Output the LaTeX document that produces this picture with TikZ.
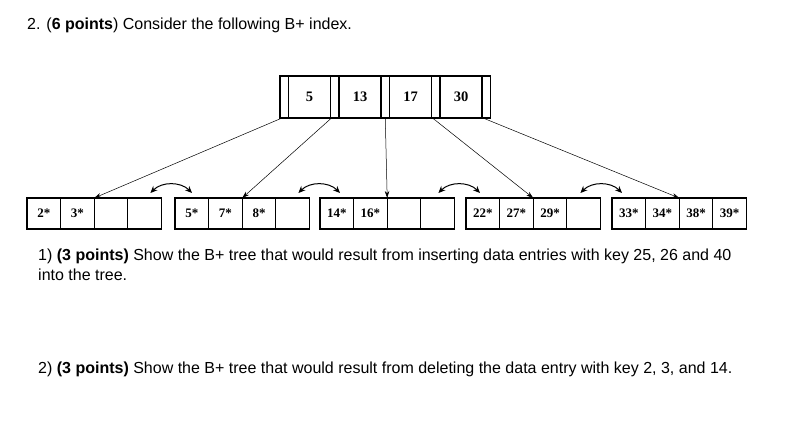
\documentclass[tikz,border=0pt]{standalone}
\usepackage{fontspec}
\setmainfont{Liberation Sans}
\newfontfamily\timesbf[Scale=1]{Liberation Serif}
\usetikzlibrary{positioning,arrows.meta,calc}
\newcommand{\keyfont}{\timesbf\bfseries\fontsize{14.5}{16}\selectfont}
\newcommand{\cellfont}{\timesbf\bfseries\fontsize{13}{15}\selectfont}
\tikzset{
  ptr/.style={draw, line width=1.3pt, outer sep=0pt, inner sep=0pt, minimum width=8.5pt, minimum height=42pt},
  key/.style={draw, line width=1.3pt, outer sep=0pt, inner sep=0pt, minimum width=42pt, minimum height=42pt, font=\keyfont},
  cell/.style={draw, line width=1.3pt, outer sep=0pt, inner sep=0pt, minimum width=33.6pt, minimum height=31pt, font=\cellfont},
  down/.style={-{Stealth[length=7pt,width=4.5pt]}, line width=0.5pt},
  sib/.style={{Stealth[length=7pt,width=6pt]}-{Stealth[length=7pt,width=6pt]}, line width=1pt, bend left=45},
  txt/.style={anchor=base west, inner sep=0pt, font=\fontsize{16}{19}\selectfont}
}
\begin{document}
\begin{tikzpicture}[x=1pt, y=-1pt, node distance=0pt]
  \useasboundingbox (0,0) rectangle (785,422);
  % root
  \node[ptr, anchor=north west] (p0) at (280,76) {};
  \node[key, right=of p0] (k1) {5};
  \node[ptr, right=of k1] (p1) {};
  \node[key, right=of p1] (k2) {13};
  \node[ptr, right=of k2] (p2) {};
  \node[key, right=of p2] (k3) {17};
  \node[ptr, right=of k3] (p3) {};
  \node[key, right=of p3] (k4) {30};
  \node[ptr, right=of k4] (p4) {};
  % leaves
  \node[cell, anchor=north west] (a1) at (27,198) {2*};
  \node[cell, right=of a1] (a2) {3*};
  \node[cell, right=of a2] (a3) {};
  \node[cell, right=of a3] (a4) {};
  \node[cell, anchor=north west] (b1) at (175,198) {5*};
  \node[cell, right=of b1] (b2) {7*};
  \node[cell, right=of b2] (b3) {8*};
  \node[cell, right=of b3] (b4) {};
  \node[cell, anchor=north west] (c1) at (320,198) {14*};
  \node[cell, right=of c1] (c2) {16*};
  \node[cell, right=of c2] (c3) {};
  \node[cell, right=of c3] (c4) {};
  \node[cell, anchor=north west] (d1) at (466,198) {22*};
  \node[cell, right=of d1] (d2) {27*};
  \node[cell, right=of d2] (d3) {29*};
  \node[cell, right=of d3] (d4) {};
  \node[cell, anchor=north west] (e1) at (612,198) {33*};
  \node[cell, right=of e1] (e2) {34*};
  \node[cell, right=of e2] (e3) {38*};
  \node[cell, right=of e3] (e4) {39*};
  % pointers
  \draw[down] ([xshift=2pt]p0.south west) -- (a3.north west);
  \draw[down] ([xshift=1pt]p1.south west) -- (b3.north west);
  \draw[down] (p2.south) -- (c3.north west);
  \draw[down] ([xshift=1pt]p3.south west) -- (d3.north west);
  \draw[down] ([xshift=1pt]p4.south west) -- (e3.north west);
  % sibling links
  \coordinate (ab1) at ([xshift=-11pt,yshift=5pt]a4.north east);
  \coordinate (ab2) at ([xshift=17pt,yshift=5pt]b1.north west);
  \coordinate (bc1) at ([xshift=-11pt,yshift=5pt]b4.north east);
  \coordinate (bc2) at ([xshift=20pt,yshift=5pt]c1.north west);
  \coordinate (cd1) at ([xshift=-16pt,yshift=5pt]c4.north east);
  \coordinate (cd2) at ([xshift=14pt,yshift=5pt]d1.north west);
  \coordinate (de1) at ([xshift=-20pt,yshift=5pt]d4.north east);
  \coordinate (de2) at ([xshift=10pt,yshift=5pt]e1.north west);
  \draw[sib] (ab1) to (ab2);
  \draw[sib] (bc1) to (bc2);
  \draw[sib] (cd1) to (cd2);
  \draw[sib] (de1) to (de2);
  % text
  \node[txt] (title) at (27,30) {2. (\textbf{6 points}) Consider the following B+ index.};
  \node[txt] (q1) at (38,261) {1) \textbf{(3 points)} Show the B+ tree that would result from inserting data entries with key 25, 26 and 40};
  \node[txt] (q1b) at (38,281) {into the tree.};
  \node[txt] (q2) at (38,373) {2) \textbf{(3 points)} Show the B+ tree that would result from deleting the data entry with key 2, 3, and 14.};
\end{tikzpicture}
\end{document}
